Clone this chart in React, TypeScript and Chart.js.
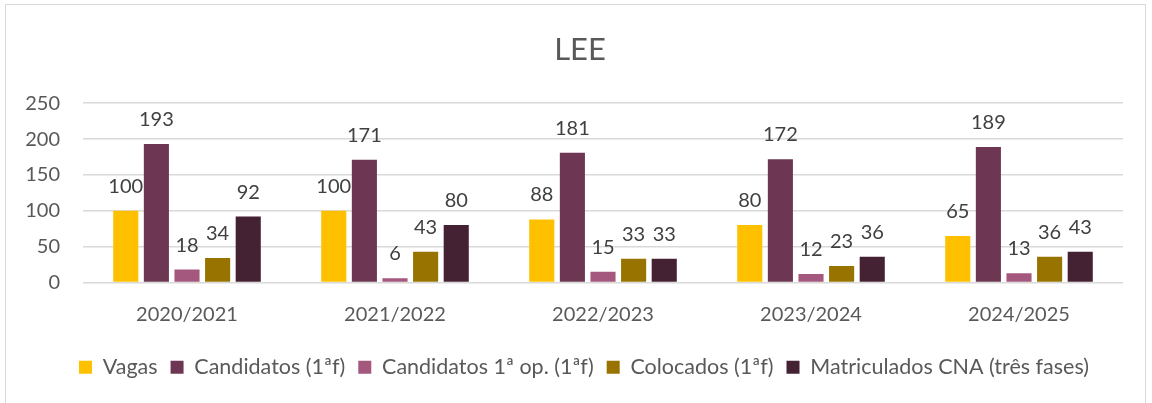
import React, { useEffect, useRef } from "react";
import { Chart, registerables } from "chart.js";

Chart.register(...registerables);

const categories = ["2020/2021", "2021/2022", "2022/2023", "2023/2024", "2024/2025"];
const vagas = [100, 100, 88, 80, 65];
const candidatos = [193, 171, 181, 172, 189];
const candidatos1op = [18, 6, 15, 12, 13];
const colocados = [34, 43, 33, 23, 36];
const matriculados = [92, 80, 33, 36, 43];
const seriesNames = [
  "Vagas",
  "Candidatos (1ªf)",
  "Candidatos 1ª op. (1ªf)",
  "Colocados (1ªf)",
  "Matriculados CNA (três fases)",
];
const seriesColors = ["#FFC000", "#6D3753", "#A5587E", "#997300", "#442233"];
const yTicks = [0, 50, 100, 150, 200, 250];

const FONT = "Lato, 'Open Sans', sans-serif";

const dataLabelPlugin = {
  id: "dataLabels",
  afterDatasetsDraw(chart: any) {
    const ctx = chart.ctx;
    ctx.save();
    ctx.font = `20px ${FONT}`;
    ctx.fillStyle = "#404040";
    ctx.textAlign = "center";
    ctx.textBaseline = "alphabetic";
    chart.data.datasets.forEach((ds: any, i: number) => {
      const meta = chart.getDatasetMeta(i);
      meta.data.forEach((bar: any, j: number) => {
        ctx.fillText(String(ds.data[j]), bar.x, bar.y - 18);
      });
    });
    ctx.restore();
  },
};

const shiftPlugin = {
  id: "shiftBoxes",
  afterLayout(chart: any) {
    if (chart.legend) {
      chart.legend.left += 11;
      chart.legend.right += 11;
    }
    if (chart.titleBlock) {
      chart.titleBlock.left += 7;
      chart.titleBlock.right += 7;
    }
  },
};

export default function App() {
  const ref = useRef<HTMLCanvasElement>(null);
  useEffect(() => {
    if (!ref.current) return;
    const series = [vagas, candidatos, candidatos1op, colocados, matriculados];
    const chart = new Chart(ref.current, {
      type: "bar",
      data: {
        labels: categories,
        datasets: series.map((d, i) => ({
          label: seriesNames[i],
          data: d,
          backgroundColor: seriesColors[i],
          borderWidth: 0,
          barPercentage: 0.82,
          categoryPercentage: 0.736,
        })),
      },
      options: {
        animation: false,
        responsive: false,
        maintainAspectRatio: false,
        layout: { padding: { left: 23, right: 29, top: 0, bottom: 15 } },
        plugins: {
          title: {
            display: true,
            text: "LEE",
            color: "#595959",
            font: { family: FONT, size: 31, weight: "normal" },
            padding: { top: 31, bottom: 35 },
          },
          legend: {
            position: "bottom",
            labels: {
              color: "#595959",
              font: { family: FONT, size: 21.5 },
              boxWidth: 13,
              boxHeight: 13,
              padding: 13,
            },
          },
          tooltip: { enabled: false },
        },
        scales: {
          x: {
            grid: { display: false, drawTicks: false },
            border: { display: false },
            ticks: { color: "#595959", font: { family: FONT, size: 20 }, padding: 20 },
            afterFit(scale: any) {
              scale.height = 61;
            },
          },
          y: {
            min: 0,
            max: 250,
            afterBuildTicks(scale: any) {
              scale.ticks = yTicks.map((v) => ({ value: v }));
            },
            grid: { color: "#D9D9D9", lineWidth: 1.5, drawTicks: false },
            border: { display: false },
            ticks: { color: "#595959", font: { family: FONT, size: 20 }, padding: 23 },
            afterFit(scale: any) {
              scale.width = 60;
            },
          },
        },
      },
      plugins: [dataLabelPlugin, shiftPlugin],
    });
    return () => chart.destroy();
  }, []);
  return (
    <div style={{ position: "absolute", left: 0, top: 0, width: 1152, height: 403, overflow: "hidden", background: "#fff" }}>
      <div style={{ position: "absolute", left: 5, top: 4, width: 1141, height: 420, border: "1px solid #D9D9D9", boxSizing: "border-box" }} />
      <canvas ref={ref} width={1152} height={403} style={{ position: "absolute", left: 0, top: 0 }} />
    </div>
  );
}
